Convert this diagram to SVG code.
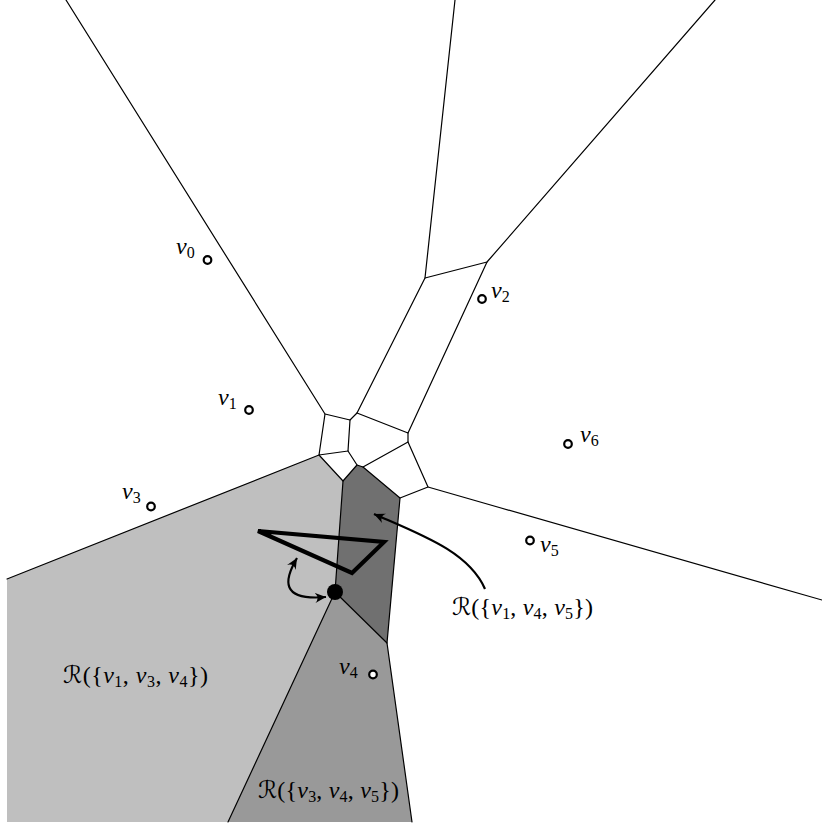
<svg xmlns="http://www.w3.org/2000/svg" width="822" height="827" viewBox="0 0 822 827">
<defs>
<style>
.edge{fill:none;stroke:#000;stroke-width:1.2;stroke-linecap:round;stroke-linejoin:round}
.light{fill:#bfbfbf}
.medium{fill:#999999}
.dark{fill:#707070}
.pt{fill:#fff;stroke:#000;stroke-width:2.2}
.lab{font-family:"Liberation Serif",serif;font-size:24px;fill:#000}
.it{font-style:italic}
.sub{font-size:16px;font-style:normal}
.scr{font-family:"DejaVu Serif","DejaVu Sans",serif;font-style:italic}
.arr{fill:none;stroke:#000;stroke-width:2.2}
.tri{fill:none;stroke:#000;stroke-width:4.2;stroke-linejoin:miter}
</style>
<marker id="ah" viewBox="-11 -6 13 12" refX="0" refY="0" markerWidth="13" markerHeight="12" markerUnits="userSpaceOnUse" orient="auto-start-reverse">
<path d="M0,0 L-11,-5 Q-6,0 -11,5 Z" fill="#000"/>
</marker>
</defs>
<rect width="822" height="827" fill="#fff"/>
<g id="regions">
<g id="region-v1-v3-v4"><polygon class="light" points="7,579 319,455 343,481 335,592 228,822 7,822"/></g>
<g id="region-v3-v4-v5"><polygon class="medium" points="335,592 387,643 412,822 228,822"/></g>
<g id="region-v1-v4-v5"><polygon class="dark" points="343,481 357,465 363,467 400,498 387,643 335,592"/></g>
</g>
<g id="edges">
<path class="edge" d="M66,0 L325,414 L350,420 L357,413 L425,278 L455,0"/>
<path class="edge" d="M425,278 L487,262 L715,0"/>
<path class="edge" d="M487,262 L408,433 L357,413"/>
<path class="edge" d="M408,433 L408,442 L428,487 L822,600"/>
<path class="edge" d="M428,487 L400,498"/>
<path class="edge" d="M325,414 L319,455 L348,451 L350,420"/>
<path class="edge" d="M348,451 L357,465 L343,481 L319,455 L7,579"/>
<path class="edge" d="M408,442 L363,467 L357,465"/>
<path class="edge" d="M363,467 L400,498 L387,643 L412,822"/>
<path class="edge" d="M343,481 L335,592 L387,643"/>
<path class="edge" d="M335,592 L228,822"/>
</g>
<g id="triangle"><polygon class="tri" points="258,531 384,542 352,573"/></g>
<g id="query-point"><circle cx="335" cy="592" r="8" fill="#000"/></g>
<g id="connectors">
<path class="arr" d="M297,558 C284,580 280,601 326,597" marker-start="url(#ah)" marker-end="url(#ah)"/>
<path class="arr" d="M485,589 C469,552 422,535 374,514" marker-end="url(#ah)"/>
</g>
<g id="sites">
<g id="v0"><circle class="pt" cx="207.5" cy="260" r="3.8"/><text class="lab" x="176" y="254"><tspan class="it">v</tspan><tspan class="sub" dy="4">0</tspan></text></g>
<g id="v1"><circle class="pt" cx="249" cy="410" r="3.8"/><text class="lab" x="218" y="405"><tspan class="it">v</tspan><tspan class="sub" dy="4">1</tspan></text></g>
<g id="v2"><circle class="pt" cx="482" cy="299" r="3.8"/><text class="lab" x="491" y="298"><tspan class="it">v</tspan><tspan class="sub" dy="4">2</tspan></text></g>
<g id="v3"><circle class="pt" cx="151" cy="506.5" r="3.8"/><text class="lab" x="122" y="499"><tspan class="it">v</tspan><tspan class="sub" dy="4">3</tspan></text></g>
<g id="v4"><circle class="pt" cx="373" cy="674.5" r="3.8"/><text class="lab" x="339" y="674"><tspan class="it">v</tspan><tspan class="sub" dy="4">4</tspan></text></g>
<g id="v5"><circle class="pt" cx="530" cy="540.5" r="3.8"/><text class="lab" x="540" y="552"><tspan class="it">v</tspan><tspan class="sub" dy="4">5</tspan></text></g>
<g id="v6"><circle class="pt" cx="568" cy="444" r="3.8"/><text class="lab" x="580" y="442"><tspan class="it">v</tspan><tspan class="sub" dy="4">6</tspan></text></g>
</g>
<g id="labels">
<text class="lab" x="63" y="683" textLength="145" lengthAdjust="spacing"><tspan class="scr">ℛ</tspan>({<tspan class="it">v</tspan><tspan class="sub" dy="4">1</tspan><tspan dy="-4">, </tspan><tspan class="it">v</tspan><tspan class="sub" dy="4">3</tspan><tspan dy="-4">, </tspan><tspan class="it">v</tspan><tspan class="sub" dy="4">4</tspan><tspan dy="-4">})</tspan></text>
<text class="lab" x="258" y="798" textLength="141" lengthAdjust="spacing"><tspan class="scr">ℛ</tspan>({<tspan class="it">v</tspan><tspan class="sub" dy="4">3</tspan><tspan dy="-4">, </tspan><tspan class="it">v</tspan><tspan class="sub" dy="4">4</tspan><tspan dy="-4">, </tspan><tspan class="it">v</tspan><tspan class="sub" dy="4">5</tspan><tspan dy="-4">})</tspan></text>
<text class="lab" x="452" y="615" textLength="141" lengthAdjust="spacing"><tspan class="scr">ℛ</tspan>({<tspan class="it">v</tspan><tspan class="sub" dy="4">1</tspan><tspan dy="-4">, </tspan><tspan class="it">v</tspan><tspan class="sub" dy="4">4</tspan><tspan dy="-4">, </tspan><tspan class="it">v</tspan><tspan class="sub" dy="4">5</tspan><tspan dy="-4">})</tspan></text>
</g>
</svg>
